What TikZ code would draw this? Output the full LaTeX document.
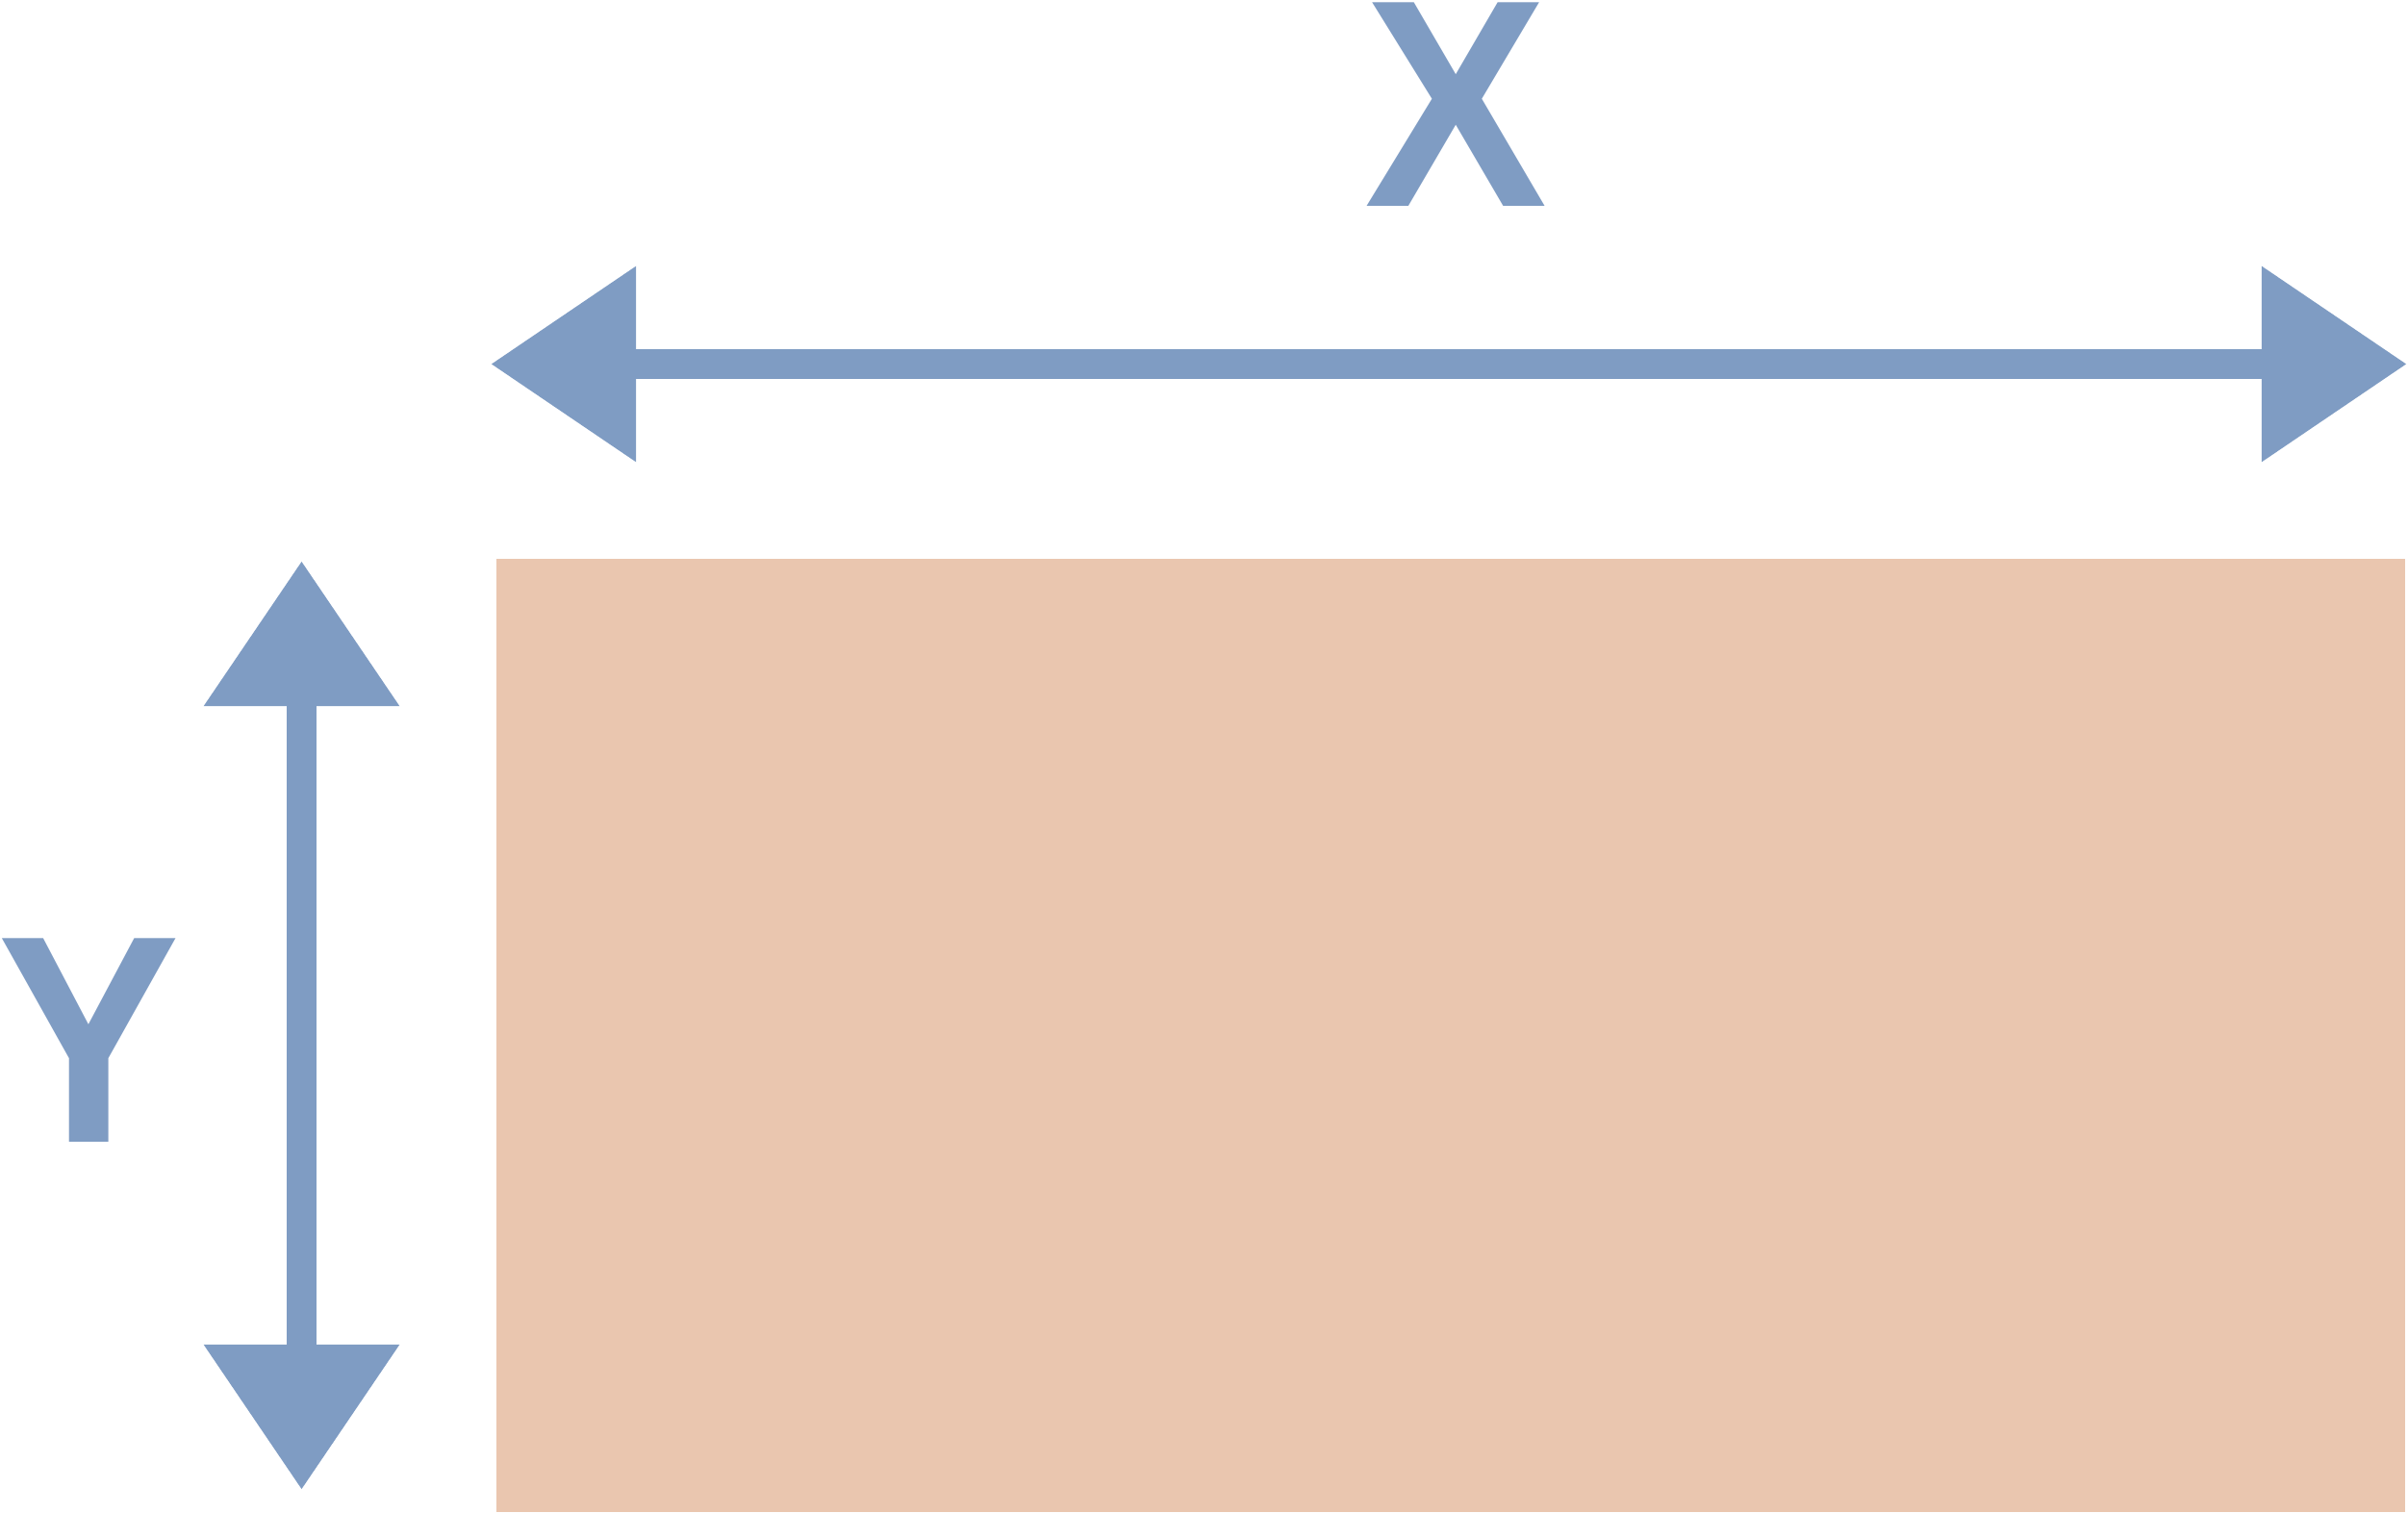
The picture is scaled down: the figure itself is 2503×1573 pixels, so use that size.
\documentclass[tikz,border=0pt]{standalone}
\usepackage{fontspec}
\setmainfont{Liberation Sans}
\usetikzlibrary{arrows.meta}
\definecolor{dimblue}{HTML}{7F9CC3}
\definecolor{panelfill}{HTML}{EAC6AF}
\tikzset{
  dimarrow/.style={draw=dimblue, line width=0.31cm,
    {Triangle[length=1.51cm,width=1.95cm]}-{Triangle[length=1.51cm,width=1.95cm]}},
  dimlabel/.style={text=dimblue, inner sep=0pt, anchor=base,
    font=\fontsize{87.5}{87.5}\selectfont\bfseries},
  panel/.style={fill=panelfill, draw=none, inner sep=0pt, minimum width=19.82cm, minimum height=9.91cm}
}
\begin{document}
\begin{tikzpicture}[x=0.01cm, y=-0.01cm]
  \useasboundingbox (0,0) rectangle (2503,1573);
  \node[panel] (plate) at (1508,1076.5) {};
  \coordinate (xl) at (510,378.5);
  \coordinate (xr) at (2502,378.5);
  \coordinate (yt) at (313.5,583);
  \coordinate (yb) at (313.5,1549);
  \draw[dimarrow] (xl) -- (xr);
  \draw[dimarrow] (yt) -- (yb);
  \node[dimlabel] (xlab) at (1514,215) {\scalebox{0.926}[1]{X}};
  \node[dimlabel] (ylab) at (93,1187) {\scalebox{0.926}[1]{Y}};
\end{tikzpicture}
\end{document}
